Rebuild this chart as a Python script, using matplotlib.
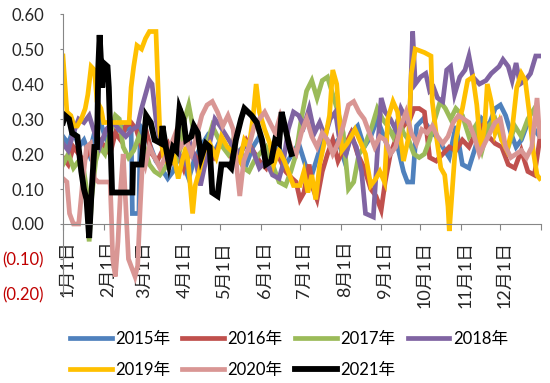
import matplotlib
matplotlib.use("Agg")
import matplotlib.pyplot as plt
import matplotlib.transforms as mtransforms

plt.rcParams["font.family"] = ["Lato", "Noto Sans CJK SC", "DejaVu Sans"]

# dias do ano (0 = 1 de janeiro) e valores
d2015 = [0, 4, 8, 12, 16, 20, 24, 28, 32, 36, 40, 44, 48, 52, 53, 58, 59, 63, 67, 71, 75, 80, 84, 88,
         92, 96, 100, 105, 110, 115, 120, 125, 130, 135, 140, 145, 150, 155, 160, 165, 170, 175, 180,
         185, 190, 195, 200, 205, 210, 215, 220, 225, 230, 235, 240, 245, 250, 255, 260, 263, 267, 270,
         275, 280, 285, 290, 295, 300, 305, 310, 315, 320, 325, 330, 334, 338, 342, 346, 350, 355, 360, 364]
v2015 = [0.25, 0.23, 0.27, 0.22, 0.24, 0.20, 0.26, 0.30, 0.25, 0.22, 0.26, 0.28, 0.27, 0.28, 0.03, 0.03,
         0.28, 0.26, 0.22, 0.18, 0.16, 0.13, 0.15, 0.19, 0.17, 0.13, 0.18, 0.22, 0.25, 0.20, 0.24, 0.22,
         0.19, 0.21, 0.17, 0.22, 0.25, 0.20, 0.18, 0.22, 0.17, 0.20, 0.23, 0.17, 0.14, 0.20, 0.25, 0.22,
         0.24, 0.18, 0.26, 0.28, 0.22, 0.25, 0.30, 0.25, 0.20, 0.23, 0.15, 0.12, 0.12, 0.28, 0.30, 0.27,
         0.25, 0.22, 0.19, 0.28, 0.17, 0.16, 0.22, 0.30, 0.28, 0.33, 0.34, 0.31, 0.26, 0.22, 0.24, 0.29,
         0.27, 0.25]

d2016 = [0, 4, 8, 12, 16, 20, 24, 28, 32, 36, 40, 44, 48, 52, 56, 60, 64, 68, 72, 76, 80, 84, 88, 92,
         96, 100, 105, 110, 115, 120, 125, 130, 135, 140, 145, 150, 155, 160, 165, 170, 175, 178, 181,
         184, 188, 191, 194, 198, 202, 206, 210, 215, 220, 225, 230, 235, 239, 243, 246, 250, 255, 260,
         265, 268, 272, 276, 280, 285, 290, 295, 300, 305, 310, 315, 320, 325, 330, 335, 340, 345, 350,
         355, 360, 364]
v2016 = [0.19, 0.17, 0.22, 0.20, 0.18, 0.21, 0.19, 0.24, 0.22, 0.20, 0.26, 0.24, 0.28, 0.29, 0.27, 0.22,
         0.26, 0.20, 0.18, 0.21, 0.23, 0.18, 0.20, 0.16, 0.23, 0.20, 0.17, 0.21, 0.19, 0.23, 0.22, 0.18,
         0.20, 0.24, 0.21, 0.18, 0.16, 0.22, 0.19, 0.15, 0.13, 0.12, 0.07, 0.09, 0.17, 0.10, 0.07, 0.15,
         0.20, 0.24, 0.18, 0.22, 0.26, 0.20, 0.16, 0.10, 0.08, 0.04, 0.12, 0.20, 0.25, 0.28, 0.30, 0.33,
         0.33, 0.32, 0.19, 0.18, 0.20, 0.22, 0.21, 0.24, 0.22, 0.26, 0.28, 0.25, 0.23, 0.22, 0.17, 0.16,
         0.21, 0.15, 0.14, 0.24]

d2017 = [0, 4, 8, 12, 16, 18, 20, 22, 25, 28, 32, 36, 40, 43, 46, 50, 54, 58, 62, 66, 70, 74, 78, 82,
         86, 90, 93, 96, 99, 102, 106, 110, 114, 118, 122, 126, 130, 134, 138, 142, 146, 150, 155, 160,
         165, 170, 174, 178, 182, 186, 190, 194, 198, 202, 206, 210, 214, 218, 222, 226, 230, 236, 240,
         244, 248, 252, 256, 260, 264, 268, 272, 276, 280, 284, 288, 292, 296, 300, 305, 310, 315, 320,
         325, 330, 335, 340, 345, 350, 355, 360, 364]
v2017 = [0.17, 0.20, 0.16, 0.18, 0.15, 0.10, -0.05, 0.08, 0.18, 0.22, 0.20, 0.26, 0.31, 0.30, 0.22, 0.19,
         0.21, 0.25, 0.22, 0.17, 0.15, 0.14, 0.16, 0.19, 0.17, 0.22, 0.30, 0.34, 0.28, 0.25, 0.20, 0.23,
         0.28, 0.25, 0.22, 0.20, 0.24, 0.19, 0.16, 0.15, 0.18, 0.20, 0.22, 0.17, 0.12, 0.11, 0.15, 0.20,
         0.30, 0.38, 0.41, 0.36, 0.41, 0.42, 0.37, 0.32, 0.26, 0.10, 0.12, 0.20, 0.22, 0.28, 0.33, 0.30,
         0.28, 0.25, 0.30, 0.26, 0.24, 0.20, 0.19, 0.20, 0.24, 0.30, 0.35, 0.33, 0.30, 0.33, 0.31, 0.25,
         0.28, 0.21, 0.28, 0.30, 0.24, 0.22, 0.28, 0.25, 0.30, 0.33, 0.27]

d2018 = [0, 4, 8, 12, 16, 20, 25, 28, 33, 38, 43, 48, 53, 57, 60, 63, 66, 68, 71, 74, 78, 82, 86, 90,
         94, 98, 102, 105, 109, 112, 116, 120, 125, 130, 135, 140, 145, 150, 155, 160, 165, 168, 172,
         176, 180, 184, 188, 192, 196, 200, 204, 208, 212, 216, 220, 224, 228, 231, 237, 240, 243, 246,
         250, 254, 258, 262, 265, 267, 269, 273, 277, 280, 283, 286, 290, 293, 296, 299, 303, 307, 310,
         313, 318, 323, 327, 330, 333, 336, 340, 343, 346, 349, 353, 357, 361, 364]
v2018 = [0.23, 0.21, 0.26, 0.30, 0.29, 0.31, 0.25, 0.22, 0.27, 0.29, 0.27, 0.25, 0.27, 0.28, 0.33, 0.37,
         0.41, 0.40, 0.30, 0.24, 0.22, 0.20, 0.22, 0.19, 0.17, 0.22, 0.17, 0.11, 0.18, 0.23, 0.30, 0.28,
         0.25, 0.22, 0.20, 0.23, 0.21, 0.16, 0.18, 0.14, 0.13, 0.17, 0.27, 0.32, 0.31, 0.28, 0.33, 0.26,
         0.29, 0.25, 0.30, 0.32, 0.22, 0.20, 0.25, 0.22, 0.15, 0.03, 0.02, 0.20, 0.36, 0.32, 0.30, 0.27,
         0.33, 0.30, 0.33, 0.55, 0.40, 0.42, 0.43, 0.38, 0.39, 0.36, 0.35, 0.44, 0.45, 0.37, 0.42, 0.44,
         0.48, 0.42, 0.40, 0.41, 0.43, 0.44, 0.45, 0.47, 0.45, 0.41, 0.46, 0.40, 0.41, 0.43, 0.48, 0.48]

d2019 = [0, 1.5, 3, 6, 8.5, 11, 14, 17, 19, 21.5, 24, 26, 29, 31, 50.5, 52, 54, 56.5, 60, 63, 66, 71,
         72.5, 74, 77, 81, 85, 88, 91, 94, 96, 99, 101, 104, 108, 112, 117, 121, 125.5, 131, 135, 138.5,
         142, 145, 147.5, 150, 154, 158, 161, 165, 169, 173, 176, 181, 184, 187, 190, 193, 196, 200,
         203.5, 206, 209, 211, 213, 217, 223, 226.5, 231, 235, 239, 242, 245.5, 248, 252, 255.5, 260,
         264, 266, 269, 276, 281, 282, 285.5, 288.5, 291.5, 294, 295, 297.5, 300, 303, 305, 309, 313,
         316, 319, 322, 324, 327, 330, 333, 335, 339, 343, 346.5, 350, 353, 356, 359, 362, 364]
v2019 = [0.48, 0.40, 0.32, 0.31, 0.28, 0.28, 0.30, 0.33, 0.37, 0.45, 0.44, 0.35, 0.33, 0.29, 0.29, 0.39,
         0.45, 0.51, 0.50, 0.53, 0.55, 0.55, 0.40, 0.26, 0.19, 0.17, 0.19, 0.13, 0.18, 0.22, 0.16, 0.03,
         0.11, 0.15, 0.21, 0.23, 0.19, 0.25, 0.22, 0.20, 0.18, 0.24, 0.22, 0.30, 0.40, 0.32, 0.27, 0.23,
         0.17, 0.21, 0.18, 0.14, 0.11, 0.11, 0.15, 0.09, 0.14, 0.07, 0.17, 0.24, 0.31, 0.44, 0.40, 0.30,
         0.21, 0.23, 0.27, 0.24, 0.20, 0.11, 0.13, 0.15, 0.12, 0.30, 0.35, 0.32, 0.18, 0.25, 0.43, 0.50,
         0.49, 0.48, 0.35, 0.24, 0.16, 0.14, 0.05, -0.02, 0.11, 0.24, 0.30, 0.33, 0.41, 0.42, 0.34, 0.21,
         0.28, 0.40, 0.35, 0.26, 0.29, 0.24, 0.21, 0.27, 0.39, 0.43, 0.41, 0.32, 0.21, 0.14, 0.13]

d2020 = [0, 3, 5, 8, 12, 15, 18, 21, 24, 27, 33, 36, 37, 38, 40, 42, 44, 46, 48, 50, 52, 55, 57, 59, 61,
         63, 66, 70, 74, 78, 82, 86, 90, 94, 98, 102, 106, 110, 114, 118, 122, 126, 130, 133, 135, 138,
         142, 146, 150, 154, 158, 162, 166, 170, 174, 178, 182, 186, 190, 194, 198, 202, 206, 210, 214,
         218, 222, 226, 230, 234, 238, 242, 246, 250, 254, 258, 262, 266, 270, 274, 278, 282, 286, 290,
         294, 298, 302, 306, 310, 314, 318, 322, 326, 330, 334, 338, 342, 346, 350, 354, 358, 362, 364]
v2020 = [0.13, 0.12, 0.03, 0.00, 0.00, 0.12, 0.22, 0.23, 0.13, 0.12, 0.12, 0.12, 0.02, -0.10, -0.15,
         -0.05, 0.10, 0.20, 0.05, -0.10, -0.12, -0.15, -0.12, 0.05, 0.20, 0.17, 0.22, 0.19, 0.16, 0.19,
         0.22, 0.26, 0.22, 0.24, 0.20, 0.25, 0.31, 0.34, 0.35, 0.32, 0.28, 0.31, 0.27, 0.15, 0.08, 0.18,
         0.22, 0.28, 0.30, 0.32, 0.29, 0.26, 0.31, 0.27, 0.22, 0.20, 0.26, 0.30, 0.25, 0.22, 0.26, 0.24,
         0.20, 0.23, 0.28, 0.34, 0.35, 0.32, 0.30, 0.26, 0.22, 0.25, 0.24, 0.20, 0.22, 0.28, 0.32, 0.26,
         0.23, 0.27, 0.26, 0.28, 0.25, 0.23, 0.25, 0.29, 0.31, 0.30, 0.29, 0.25, 0.20, 0.23, 0.26, 0.29,
         0.30, 0.22, 0.19, 0.20, 0.21, 0.19, 0.22, 0.36, 0.25]

d2021 = [0, 1.5, 4.6, 7, 11, 14, 16, 18, 20, 21.5, 24, 26, 27, 28, 30, 31, 34, 35, 37.5, 53, 53.5, 60,
         63.5, 67, 70, 75, 76, 79, 81, 84, 86.5, 89, 92, 94, 98, 100, 103, 105.5, 109, 112, 114, 118,
         121, 126, 128.5, 132, 136, 138.5, 144, 148, 152, 155, 159, 162, 165, 167, 170, 173, 174.5]
v2021 = [0.29, 0.31, 0.30, 0.26, 0.25, 0.15, 0.10, 0.07, -0.04, 0.07, 0.22, 0.22, 0.45, 0.54, 0.39,
         0.46, 0.45, 0.39, 0.09, 0.09, 0.17, 0.17, 0.31, 0.29, 0.24, 0.23, 0.28, 0.21, 0.17, 0.22, 0.21,
         0.33, 0.30, 0.24, 0.25, 0.28, 0.26, 0.19, 0.23, 0.22, 0.09, 0.08, 0.17, 0.17, 0.16, 0.24, 0.30,
         0.33, 0.31, 0.29, 0.24, 0.17, 0.18, 0.24, 0.23, 0.32, 0.27, 0.22, 0.20]

anos = ["2015年", "2016年", "2017年", "2018年", "2019年", "2020年", "2021年"]
cores = ["#4F81BD", "#C0504D", "#9BBB59", "#8064A2", "#FFC000", "#D99694", "#000000"]
dias = [d2015, d2016, d2017, d2018, d2019, d2020, d2021]
valores = [v2015, v2016, v2017, v2018, v2019, v2020, v2021]

meses_pos = [0, 31, 59, 90, 120, 151, 181, 212, 243, 273, 304, 334, 365]
meses_txt = ["1月1日", "2月1日", "3月1日", "4月1日", "5月1日", "6月1日", "7月1日",
             "8月1日", "9月1日", "10月1日", "11月1日", "12月1日", ""]
y_pos = [-0.2, -0.1, 0.0, 0.1, 0.2, 0.3, 0.4, 0.5, 0.6]
y_txt = ["(0.20)", "(0.10)", "0.00", "0.10", "0.20", "0.30", "0.40", "0.50", "0.60"]

fig = plt.figure(figsize=(5.5, 3.83), dpi=100)
ax = fig.add_axes([0.1145, 0.2324, 0.8691, 0.731])

linhas = []
for x, y, c, nome in zip(dias, valores, cores, anos):
    lw = 4.2 if nome == "2021年" else 3.4
    l, = ax.plot(x, y, color=c, lw=lw, label=nome, solid_joinstyle="miter")
    linhas.append(l)

ax.set_xlim(0, 365)
ax.set_ylim(-0.2, 0.6)
for s in ["top", "right"]:
    ax.spines[s].set_visible(False)
ax.spines["bottom"].set_position(("data", 0))
ax.spines["bottom"].set_color("#868686")
ax.spines["left"].set_color("#868686")

ax.set_yticks(y_pos)
ax.set_yticklabels(y_txt, fontsize=12)
for lab, v in zip(ax.get_yticklabels(), y_pos):
    lab.set_color("#C00000" if v < 0 else "#262626")
ax.tick_params(axis="y", length=2.5, color="#868686", pad=11)

ax.set_xticks(meses_pos)
ax.set_xticklabels(meses_txt, rotation=90, fontsize=13, va="top", ha="center")
ax.tick_params(axis="x", length=4, color="#868686", pad=8, labelcolor="#262626")
desloc = mtransforms.ScaledTranslation(3 / 72, 0, fig.dpi_scale_trans)
for lab in ax.get_xticklabels():
    lab.set_transform(lab.get_transform() + desloc)

# legenda preenchida por linhas (como no Excel)
ordem = [0, 4, 1, 5, 2, 6, 3]
fig.legend([linhas[i] for i in ordem], [anos[i] for i in ordem],
           loc="upper left", bbox_to_anchor=(0.127, 0.137), ncol=4, frameon=False,
           fontsize=12, handlelength=2.5, handletextpad=0.2, columnspacing=0.75,
           labelspacing=0.9, borderpad=0, borderaxespad=0)

fig.savefig("out.png", dpi=100)
